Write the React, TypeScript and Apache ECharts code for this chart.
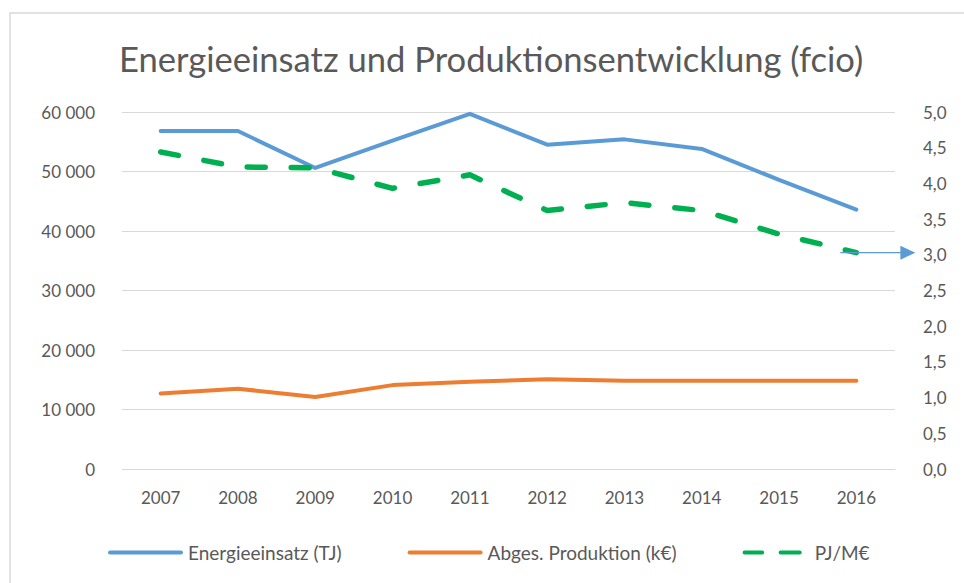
import React, { useEffect, useRef } from "react";
import * as echarts from "echarts";

const years = ["2007", "2008", "2009", "2010", "2011", "2012", "2013", "2014", "2015", "2016"];
const energie = [56800, 56800, 50600, 55200, 59700, 54500, 55400, 53800, 48600, 43600];
const produktion = [12700, 13500, 12100, 14100, 14650, 15100, 14850, 14850, 14850, 14850];
const pjProMEuro = [4.44, 4.23, 4.22, 3.93, 4.12, 3.62, 3.73, 3.62, 3.29, 3.03];

const seriesNames = ["Energieeinsatz (TJ)", "Abges. Produktion (k€)", "PJ/M€"];
const titleText = "Energieeinsatz und Produktionsentwicklung (fcio)";

const FONT = "Lato";
const TXT = "#595959";

const solidIcon = "path://M2,0h71a2,2 0 0 1 0,4h-71a2,2 0 0 1 0,-4z";
const dashIcon = "path://M2,0h22a2.5,2.5 0 0 1 0,5h-22a2.5,2.5 0 0 1 0,-5zM47,0h24a2.5,2.5 0 0 1 0,5h-24a2.5,2.5 0 0 1 0,-5z";

export default function App() {
  const ref = useRef<HTMLDivElement>(null);
  useEffect(() => {
    if (!ref.current) return;
    const chart = echarts.init(ref.current, undefined, { renderer: "svg" });
    chart.setOption({
      animation: false,
      backgroundColor: "#ffffff",
      title: {
        text: titleText,
        left: 114,
        top: 36,
        textStyle: { fontFamily: FONT, fontSize: 34.6, fontWeight: "normal", color: TXT },
      },
      legend: {
        left: 103,
        top: 538,
        itemWidth: 75,
        itemHeight: 4,
        itemGap: 66,
        textStyle: { fontFamily: FONT, fontSize: 19, color: TXT },
        data: [
          { name: seriesNames[0], icon: solidIcon },
          { name: seriesNames[1], icon: solidIcon },
          { name: seriesNames[2], icon: dashIcon, itemHeight: 5 },
        ],
      },
      grid: { left: 122, right: 69, top: 112, bottom: 114 },
      xAxis: {
        type: "category",
        data: years,
        boundaryGap: true,
        axisLine: { show: true, lineStyle: { color: "#d9d9d9", width: 1 } },
        axisTick: { show: false },
        axisLabel: { fontFamily: FONT, fontSize: 17, color: TXT, margin: 20 },
      },
      yAxis: [
        {
          type: "value",
          min: 0,
          max: 60000,
          interval: 10000,
          axisLine: { show: false },
          axisTick: { show: false },
          splitLine: { lineStyle: { color: "#d9d9d9", width: 1 } },
          axisLabel: {
            fontFamily: FONT,
            fontSize: 17,
            color: TXT,
            margin: 27,
            formatter: (v: number) => String(v).replace(/\B(?=(\d{3})+(?!\d))/g, " "),
          },
        },
        {
          type: "value",
          min: 0,
          max: 5,
          interval: 0.5,
          axisLine: { show: false },
          axisTick: { show: false },
          splitLine: { show: false },
          axisLabel: {
            fontFamily: FONT,
            fontSize: 17,
            color: TXT,
            margin: 28,
            formatter: (v: number) => v.toFixed(1).replace(".", ","),
          },
        },
      ],
      series: [
        {
          name: seriesNames[0],
          type: "line",
          data: energie,
          yAxisIndex: 0,
          symbol: "none",
          lineStyle: { color: "#5b9bd5", width: 4, cap: "round", join: "round" },
          itemStyle: { color: "#5b9bd5" },
        },
        {
          name: seriesNames[1],
          type: "line",
          data: produktion,
          yAxisIndex: 0,
          symbol: "none",
          lineStyle: { color: "#ed7d31", width: 4, cap: "round", join: "round" },
          itemStyle: { color: "#ed7d31" },
        },
        {
          name: seriesNames[2],
          type: "line",
          data: pjProMEuro,
          yAxisIndex: 1,
          symbol: "none",
          z: 3,
          lineStyle: { color: "#00b050", width: 5.5, type: [18, 26], cap: "round", join: "round" },
          itemStyle: { color: "#00b050" },
        },
      ],
    });
    const last = pjProMEuro.length - 1;
    const p = chart.convertToPixel({ xAxisIndex: 0, yAxisIndex: 1 }, [last, pjProMEuro[last]]) as number[];
    const x0 = p[0] - 16;
    const y0 = p[1];
    const x1 = p[0] + 59;
    chart.setOption({
      graphic: [
        {
          type: "rect",
          shape: { x: 10, y: 13, width: 1000, height: 600 },
          style: { fill: "none", stroke: "#d9d9d9", lineWidth: 1.5 },
          silent: true,
          z: -10,
        },
        {
          type: "line",
          shape: { x1: x0, y1: y0, x2: x1 - 14, y2: y0 },
          style: { stroke: "#5b9bd5", lineWidth: 1.2 },
          z: 10,
        },
        {
          type: "polygon",
          shape: { points: [[x1 - 15, y0 - 7], [x1, y0], [x1 - 15, y0 + 7]] },
          style: { fill: "#5b9bd5" },
          z: 10,
        },
      ],
    });
    return () => chart.dispose();
  }, []);
  return (
    <div
      ref={ref}
      style={{ position: "absolute", left: 0, top: 0, width: 964, height: 583 }}
    />
  );
}
